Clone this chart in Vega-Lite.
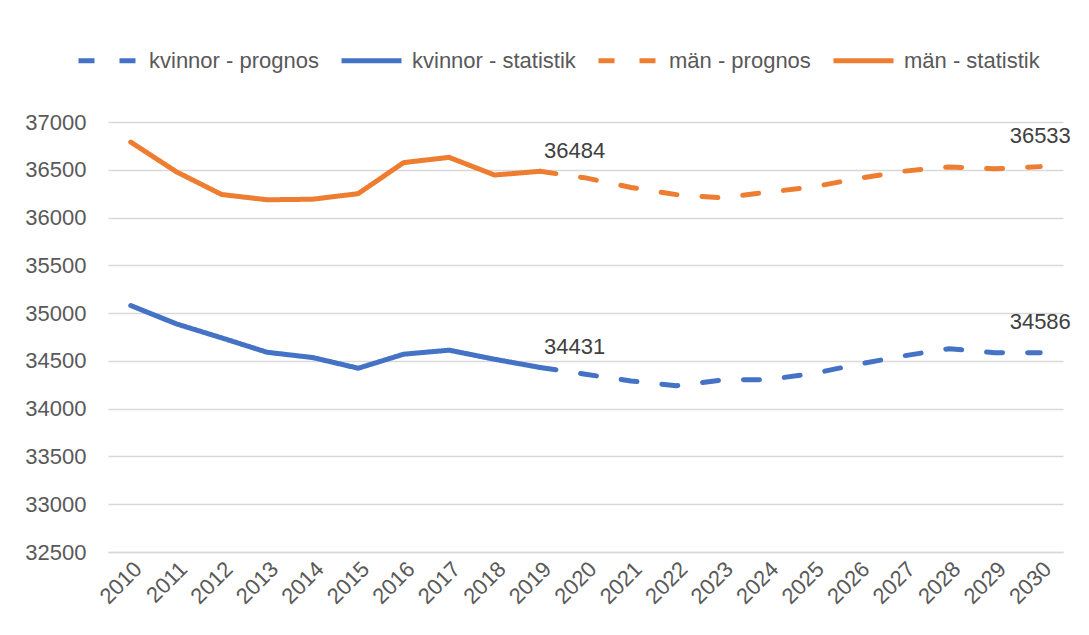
{
  "$schema": "https://vega.github.io/schema/vega-lite/v6.json",
  "autosize": "none",
  "width": 955,
  "height": 430,
  "padding": {"left": 108, "top": 122, "right": 26, "bottom": 83},
  "background": "white",
  "config": {
    "font": "Liberation Sans",
    "view": {"stroke": null}
  },
  "data": {
    "values": [
      {"year": "2010", "series": "män - statistik", "value": 36790},
      {"year": "2011", "series": "män - statistik", "value": 36480},
      {"year": "2012", "series": "män - statistik", "value": 36241},
      {"year": "2013", "series": "män - statistik", "value": 36186},
      {"year": "2014", "series": "män - statistik", "value": 36192},
      {"year": "2015", "series": "män - statistik", "value": 36250},
      {"year": "2016", "series": "män - statistik", "value": 36575},
      {"year": "2017", "series": "män - statistik", "value": 36630},
      {"year": "2018", "series": "män - statistik", "value": 36445},
      {"year": "2019", "series": "män - statistik", "value": 36484},
      {"year": "2019", "series": "män - prognos", "value": 36484},
      {"year": "2020", "series": "män - prognos", "value": 36415},
      {"year": "2021", "series": "män - prognos", "value": 36315},
      {"year": "2022", "series": "män - prognos", "value": 36240},
      {"year": "2023", "series": "män - prognos", "value": 36206},
      {"year": "2024", "series": "män - prognos", "value": 36265},
      {"year": "2025", "series": "män - prognos", "value": 36320},
      {"year": "2026", "series": "män - prognos", "value": 36410},
      {"year": "2027", "series": "män - prognos", "value": 36485},
      {"year": "2028", "series": "män - prognos", "value": 36530},
      {"year": "2029", "series": "män - prognos", "value": 36510},
      {"year": "2030", "series": "män - prognos", "value": 36533},
      {"year": "2010", "series": "kvinnor - statistik", "value": 35080},
      {"year": "2011", "series": "kvinnor - statistik", "value": 34888},
      {"year": "2012", "series": "kvinnor - statistik", "value": 34741},
      {"year": "2013", "series": "kvinnor - statistik", "value": 34590},
      {"year": "2014", "series": "kvinnor - statistik", "value": 34535},
      {"year": "2015", "series": "kvinnor - statistik", "value": 34423},
      {"year": "2016", "series": "kvinnor - statistik", "value": 34570},
      {"year": "2017", "series": "kvinnor - statistik", "value": 34612},
      {"year": "2018", "series": "kvinnor - statistik", "value": 34517},
      {"year": "2019", "series": "kvinnor - statistik", "value": 34431},
      {"year": "2019", "series": "kvinnor - prognos", "value": 34431},
      {"year": "2020", "series": "kvinnor - prognos", "value": 34360},
      {"year": "2021", "series": "kvinnor - prognos", "value": 34290},
      {"year": "2022", "series": "kvinnor - prognos", "value": 34240},
      {"year": "2023", "series": "kvinnor - prognos", "value": 34300},
      {"year": "2024", "series": "kvinnor - prognos", "value": 34304},
      {"year": "2025", "series": "kvinnor - prognos", "value": 34367},
      {"year": "2026", "series": "kvinnor - prognos", "value": 34465},
      {"year": "2027", "series": "kvinnor - prognos", "value": 34553},
      {"year": "2028", "series": "kvinnor - prognos", "value": 34628},
      {"year": "2029", "series": "kvinnor - prognos", "value": 34584},
      {"year": "2030", "series": "kvinnor - prognos", "value": 34586}
    ]
  },
  "encoding": {
    "x": {
      "field": "year",
      "type": "ordinal",
      "scale": {"type": "point", "padding": 0.5},
      "axis": {
        "title": null,
        "labelAngle": -45,
        "labelFontSize": 22,
        "labelColor": "#595959",
        "ticks": false,
        "domainColor": "#D9D9D9",
        "domainWidth": 1.5,
        "labelPadding": 6
      }
    },
    "y": {
      "field": "value",
      "type": "quantitative",
      "scale": {"domain": [32500, 37000], "nice": false, "zero": false},
      "axis": {
        "title": null,
        "values": [32500, 33000, 33500, 34000, 34500, 35000, 35500, 36000, 36500, 37000],
        "format": "d",
        "labelFontSize": 22,
        "labelColor": "#595959",
        "ticks": false,
        "domain": false,
        "gridColor": "#D9D9D9",
        "gridWidth": 1.5,
        "labelPadding": 22
      }
    }
  },
  "layer": [
    {
      "mark": {"type": "line", "strokeWidth": 5, "strokeCap": "round", "strokeJoin": "round"},
      "encoding": {
        "detail": {"field": "series"},
        "color": {
          "field": "series",
          "type": "nominal",
          "scale": {
            "domain": ["kvinnor - prognos", "kvinnor - statistik", "män - prognos", "män - statistik"],
            "range": ["#4472C4", "#4472C4", "#ED7D31", "#ED7D31"]
          },
          "legend": {
            "title": null,
            "orient": "none",
            "direction": "horizontal",
            "legendX": -32,
            "legendY": -94,
            "symbolType": "stroke",
            "symbolSize": 3600,
            "symbolStrokeWidth": 5,
            "labelFontSize": 22,
            "labelColor": "#595959",
            "labelOffset": 8,
            "labelLimit": 400,
            "columnPadding": 12
          }
        },
        "strokeDash": {
          "field": "series",
          "type": "nominal",
          "scale": {
            "domain": ["kvinnor - prognos", "kvinnor - statistik", "män - prognos", "män - statistik"],
            "range": [[16, 25], [1, 0], [16, 25], [1, 0]]
          },
          "legend": null
        }
      }
    },
    {
      "transform": [{"filter": "datum.year == '2019' && indexof(datum.series, 'prognos') >= 0"}],
      "mark": {"type": "text", "align": "left", "baseline": "middle", "dx": 4, "dy": -20, "fontSize": 22, "color": "#404040"},
      "encoding": {"text": {"field": "value", "type": "quantitative", "format": "d"}}
    },
    {
      "transform": [{"filter": "datum.year == '2030'"}],
      "mark": {"type": "text", "align": "center", "baseline": "middle", "dy": -31, "fontSize": 22, "color": "#404040"},
      "encoding": {"text": {"field": "value", "type": "quantitative", "format": "d"}}
    }
  ]
}
